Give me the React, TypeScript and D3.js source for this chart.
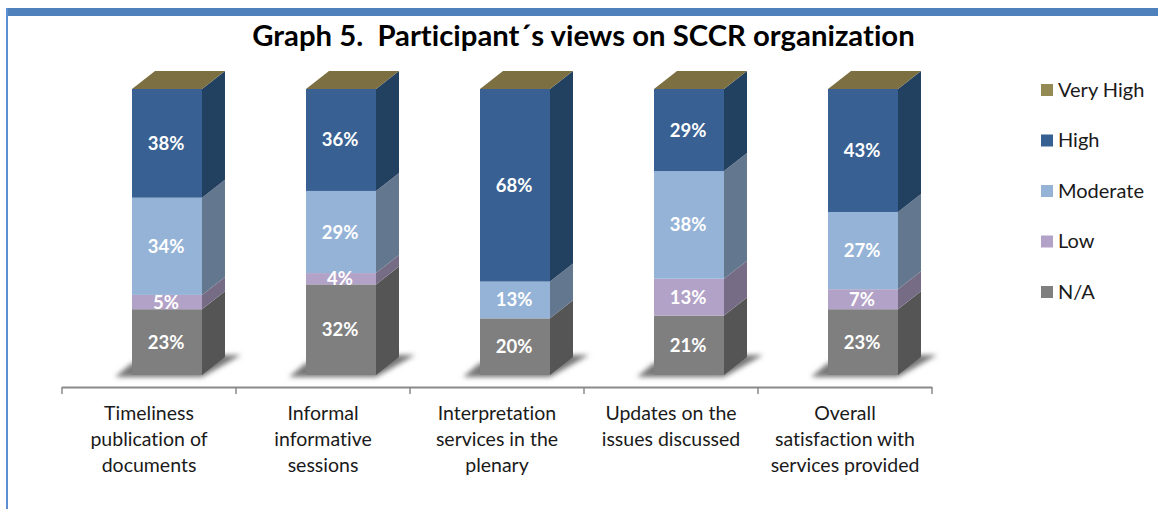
import React from "react";
import * as d3 from "d3";

const title = "Graph 5.  Participant´s views on SCCR organization";
const categories = [
  ["Timeliness", "publication of", "documents"],
  ["Informal", "informative", "sessions"],
  ["Interpretation", "services in the", "plenary"],
  ["Updates on the", "issues discussed"],
  ["Overall", "satisfaction with", "services provided"],
];
const seriesNames = ["N/A", "Low", "Moderate", "High", "Very High"];
const naValues = [23, 32, 20, 21, 23];
const lowValues = [5, 4, 0, 13, 7];
const moderateValues = [34, 29, 13, 38, 27];
const highValues = [38, 36, 68, 29, 43];
const veryHighValues = [0, 0, 0, 0, 0];
const frontColors = ["#7f7f7f", "#b3a2c7", "#95b3d7", "#376092", "#948a54"];
const sideColors = ["#555555", "#776c85", "#64778f", "#243f60", "#635c38"];
const topColor = "#7b6f42";

const W = 1158, H = 509;
const FONT = "Lato, Carlito, 'Open Sans', sans-serif";
const dx = 23, dy = -18;

export default function App() {
  const rows = categories.map((_, i) => ({
    i,
    "N/A": naValues[i], Low: lowValues[i], Moderate: moderateValues[i],
    High: highValues[i], "Very High": veryHighValues[i],
  }));
  const stacked = d3.stack<any>().keys(seriesNames).offset(d3.stackOffsetExpand)(rows);
  const x = d3.scaleBand<number>().domain(categories.map((_, i) => i)).range([62, 932]).paddingInner(0).paddingOuter(0);
  const y = d3.scaleLinear().domain([0, 1]).range([375, 89]);
  const barW = 70;
  const bx = (i: number) => x(i)! + 70;
  const fmt = (v: number) => `${v}%`;
  const legendY = d3.scalePoint<string>().domain([...seriesNames].reverse()).range([90, 292]);

  return (
    <svg width={W} height={H} style={{ position: "absolute", left: 0, top: 0, background: "#fff", fontVariantLigatures: "none" }} fontFamily={FONT}>
      <defs>
        <filter id="soft" x="-30%" y="-100%" width="160%" height="300%"><feGaussianBlur stdDeviation="2.5" /></filter>
        <filter id="edge" x="-5%" y="-5%" width="110%" height="110%"><feGaussianBlur stdDeviation="0.5" /></filter>
      </defs>
      <rect x={6} y={8} width={W - 6} height={8} fill="#4f81bd" />
      <rect x={6} y={8} width={2} height={H - 8} fill="#5b8fd0" />
      <text x={583.5} y={46} textAnchor="middle" fontSize={29.3} fontWeight={700} fill="#000" xmlSpace="preserve">{title}</text>

      {categories.map((_, i) => {
        const b = bx(i);
        return (
          <polygon key={i} filter="url(#soft)" fill="#777"
            points={`${b - 17},${y(0) + 2} ${b + barW},${y(0) + 2} ${b + barW + dx + 16},${y(0) + dy - 2} ${b + barW + dx - 4},${y(0) + dy - 2} ${b},${y(0) - 12}`} />
        );
      })}

      <g filter="url(#edge)">
        {stacked.map((s, si) => (
          <g key={s.key}>
            {s.map((d, i) => {
              const b = bx(i), y0 = y(d[0]), y1 = y(d[1]);
              if (y0 - y1 <= 0) return null;
              return (
                <g key={i}>
                  <rect x={b} y={y1} width={barW} height={y0 - y1} fill={frontColors[si]} />
                  <polygon fill={sideColors[si]}
                    points={`${b + barW},${y0} ${b + barW + dx},${y0 + dy} ${b + barW + dx},${y1 + dy} ${b + barW},${y1}`} />
                </g>
              );
            })}
          </g>
        ))}
        {categories.map((_, i) => {
          const b = bx(i), t = y(1);
          return <polygon key={i} fill={topColor}
            points={`${b},${t} ${b + dx},${t + dy} ${b + barW + dx},${t + dy} ${b + barW},${t}`} />;
        })}
      </g>

      {stacked.slice(0, 4).map((s) => s.map((d, i) => {
        const v = (d.data as any)[s.key] as number;
        if (!v) return null;
        return (
          <text key={s.key + i} x={bx(i) + barW / 2 - 1} y={(y(d[0]) + y(d[1])) / 2 + 6.5} textAnchor="middle"
            fontSize={18.5} fontWeight={700} fill="#fff">{fmt(v)}</text>
        );
      }))}

      <line x1={62} x2={932} y1={387.5} y2={387.5} stroke="#8a8a8a" strokeWidth={2} />
      {d3.range(6).map((k) => {
        const tx = k < 5 ? x(k)! : 932;
        return <line key={k} x1={tx} x2={tx} y1={387} y2={394} stroke="#8a8a8a" strokeWidth={1.5} />;
      })}
      {categories.map((lines, i) => (
        <text key={i} textAnchor="middle" fontSize={19.5} fill="#1a1a1a">
          {lines.map((l, j) => (
            <tspan key={j} x={x(i)! + x.bandwidth() / 2} y={420 + j * 26}>{l}</tspan>
          ))}
        </text>
      ))}

      {seriesNames.map((n, si) => (
        <g key={n}>
          <rect x={1041} y={legendY(n)! - 6} width={12} height={12} fill={frontColors[si]} />
          <text x={1058} y={legendY(n)! + 6.5} fontSize={20} fill="#1a1a1a">{n}</text>
        </g>
      ))}
    </svg>
  );
}
